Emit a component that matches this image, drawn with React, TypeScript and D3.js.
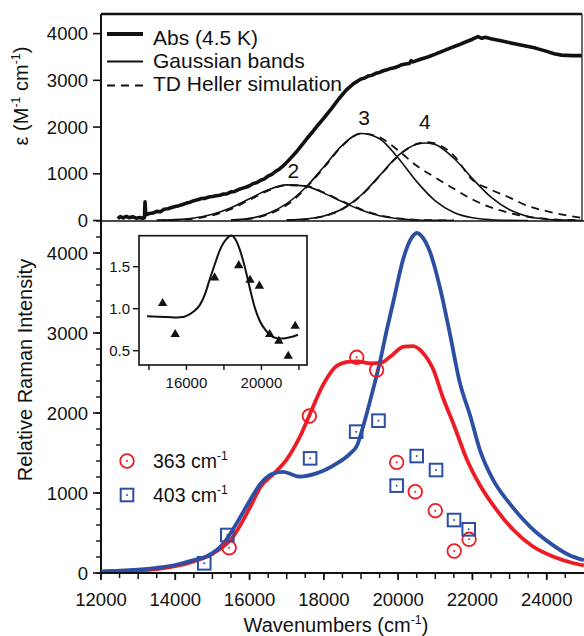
import React from 'react';
import * as d3 from 'd3';

// ---------- DATA ----------
// Top panel: absorption (4.5 K), epsilon vs wavenumber
const absData: [number, number][] = [
  [12450, 40], [12520, 85], [12600, 55], [12680, 90], [12760, 60], [12850, 80], [12950, 50], [13050, 65], [13120, 45],
  [13170, 60], [13185, 400], [13205, 120], [13300, 150], [13400, 160], [13500, 195], [13600, 188], [13700, 240],
  [13800, 250], [13900, 278], [14000, 300], [14100, 318], [14200, 342], [14300, 372], [14400, 392], [14500, 425],
  [14600, 442], [14700, 472], [14800, 474], [14900, 502], [15000, 512], [15100, 528], [15200, 542], [15300, 565],
  [15400, 574], [15500, 612], [15600, 622], [15700, 662], [15800, 688], [15900, 712], [16000, 744], [16100, 792],
  [16200, 812], [16300, 862], [16400, 892], [16500, 952], [16600, 988], [16700, 1052], [16800, 1098], [16950, 1200],
  [17100, 1330], [17250, 1460], [17400, 1610], [17550, 1760], [17700, 1900], [17850, 2050], [18000, 2190],
  [18200, 2390], [18400, 2600], [18600, 2790], [18800, 2930], [19000, 3030], [19100, 3050], [19200, 3095],
  [19300, 3110], [19400, 3150], [19500, 3170], [19600, 3205], [19700, 3225], [19800, 3255], [19900, 3270],
  [20000, 3300], [20100, 3335], [20200, 3350], [20300, 3360], [20350, 3420], [20400, 3395], [20600, 3450],
  [20800, 3500], [21000, 3560], [21200, 3625], [21400, 3690], [21600, 3750], [21800, 3815], [22000, 3880],
  [22150, 3935], [22250, 3900], [22350, 3920], [22500, 3890], [22800, 3840], [23100, 3790], [23400, 3740],
  [23700, 3690], [24000, 3620], [24200, 3570], [24400, 3540], [24700, 3530], [25000, 3530],
];
const band2: [number, number][] = [
  [13500, 5], [14000, 18], [14500, 54], [15000, 134], [15500, 275], [16000, 467], [16500, 656], [17000, 763],
  [17500, 735], [18000, 586], [18500, 400], [19000, 225], [19500, 100], [20000, 38], [20500, 12], [21000, 3], [21500, 0],
];
const heller2: [number, number][] = [
  [13500, 3], [14000, 12], [14500, 40], [15000, 110], [15500, 245], [16000, 440], [16500, 640], [17000, 755],
  [17500, 740], [18000, 600], [18500, 410], [19000, 240], [19500, 115], [20000, 45], [20500, 15], [21000, 4], [21500, 0],
];
const band3: [number, number][] = [
  [15500, 12], [16000, 45], [16500, 150], [17000, 360], [17500, 700], [18000, 1150], [18500, 1615], [19000, 1862],
  [19500, 1750], [20000, 1338], [20500, 832], [21000, 421], [21500, 173], [22000, 58], [22500, 16], [23000, 3], [23500, 0],
];
const heller3: [number, number][] = [
  [15500, 8], [16000, 35], [16500, 130], [17000, 330], [17500, 680], [18000, 1130], [18500, 1600], [19000, 1860],
  [19500, 1780], [20000, 1500], [20500, 1170], [21000, 920], [21500, 680], [22000, 450], [22500, 280], [23000, 160],
  [23500, 80], [24000, 35], [24500, 12], [25000, 4],
];
const band4: [number, number][] = [
  [17000, 7], [17500, 30], [18000, 95], [18500, 250], [19000, 540], [19500, 960], [20000, 1390], [20500, 1630],
  [20750, 1660], [21000, 1625], [21500, 1332], [22000, 900], [22500, 500], [23000, 229], [23500, 86], [24000, 27],
  [24500, 7], [25000, 0],
];
const heller4: [number, number][] = [
  [17000, 5], [17500, 25], [18000, 90], [18500, 240], [19000, 530], [19500, 950], [20000, 1380], [20500, 1640],
  [20750, 1680], [21000, 1650], [21500, 1390], [22000, 870], [22500, 660], [23000, 490], [23500, 310], [24000, 200],
  [24500, 115], [25000, 50],
];
const bandLabels: [string, number, number][] = [
  ['2', 17180, 910], ['3', 19080, 2050], ['4', 20720, 1950],
];

// Bottom panel: Raman excitation profiles
const sim363: [number, number][] = [
  [12000, 15], [12500, 22], [13000, 32], [13500, 50], [14000, 85], [14500, 145], [15000, 240], [15500, 420],
  [16000, 810], [16300, 1080], [16650, 1240], [17000, 1420], [17350, 1700], [17600, 1960], [18000, 2370],
  [18350, 2590], [18650, 2640], [18900, 2645], [19250, 2620], [19550, 2630], [19800, 2710], [20150, 2830],
  [20400, 2835], [20650, 2760], [20950, 2540], [21200, 2200], [21500, 1850], [21850, 1420], [22200, 1100],
  [22650, 790], [23100, 540], [23600, 340], [24200, 200], [24700, 125], [25000, 95],
];
const sim403: [number, number][] = [
  [12000, 20], [12500, 28], [13000, 42], [13500, 65], [14000, 100], [14500, 160], [14850, 210], [15300, 370],
  [15650, 620], [16000, 900], [16300, 1120], [16650, 1245], [16900, 1265], [17350, 1205], [17800, 1245],
  [18350, 1370], [18700, 1490], [18900, 1600], [19050, 1820], [19300, 2250], [19500, 2620], [19700, 3050],
  [19870, 3390], [20140, 3930], [20350, 4180], [20500, 4250], [20650, 4200], [20860, 4010], [21130, 3560],
  [21400, 2975], [21650, 2400], [21950, 1950], [22200, 1540], [22550, 1170], [23000, 870], [23550, 580],
  [24100, 370], [24600, 225], [25000, 160],
];
const exp363: [number, number][] = [
  [15450, 316], [17610, 1962], [18885, 2696], [19420, 2537], [19960, 1383], [20460, 1016], [21000, 779],
  [21510, 275], [21910, 421],
];
const exp403: [number, number][] = [
  [14780, 121], [15400, 475], [17630, 1433], [18870, 1767], [19470, 1904], [19960, 1092], [20500, 1462],
  [21020, 1287], [21505, 662], [21900, 546],
];

// Inset: intensity ratio
const insetCurve: [number, number][] = [
  [13900, 0.91], [14500, 0.905], [15000, 0.9], [15500, 0.895], [15800, 0.9], [16000, 0.915], [16400, 0.97],
  [16700, 1.04], [17000, 1.18], [17200, 1.32], [17500, 1.52], [17750, 1.68], [18000, 1.79], [18250, 1.855],
  [18400, 1.87], [18600, 1.83], [18850, 1.7], [19050, 1.55], [19250, 1.37], [19450, 1.18], [19650, 1.01],
  [19900, 0.86], [20200, 0.75], [20500, 0.68], [20800, 0.65], [21100, 0.645], [21400, 0.655], [21700, 0.67],
  [21950, 0.69],
];
const insetPoints: [number, number][] = [
  [14730, 1.063], [15400, 0.694], [17500, 1.369], [18790, 1.515], [19390, 1.34], [19890, 1.27], [20440, 0.694],
  [20930, 0.615], [21430, 0.436], [21800, 0.793],
];

const xTicks = [12000, 14000, 16000, 18000, 20000, 22000, 24000];
const topYTicks = [0, 1000, 2000, 3000, 4000];
const botYTicks = [0, 1000, 2000, 3000, 4000];
const insetXTicks = [14000, 16000, 18000, 20000, 22000];
const insetXLabels = [16000, 20000];
const insetYTicks = [0.5, 1.0, 1.5];

// ---------- LAYOUT ----------
const W = 584, H = 636;
const L = 101, R = 582;
const TOP_T = 14, TOP_B = 221, BOT_B = 573;
const RED = '#ec1c24';
const BLUE = '#2c4ea3';
const FONT = '"Liberation Sans", Arial, Helvetica, sans-serif';

const x = d3.scaleLinear().domain([12000, 24950]).range([L, R]);
const yTop = d3.scaleLinear().domain([0, 4420]).range([220.5, TOP_T]);
const yBot = d3.scaleLinear().domain([0, 4400]).range([BOT_B, TOP_B]);
const ix = d3.scaleLinear().domain([13470, 22430]).range([139, 307]);
const iy = d3.scaleLinear().domain([0.33, 1.869]).range([365, 235.7]);

const lineTop = d3.line<[number, number]>().x(d => x(d[0])).y(d => yTop(d[1])).curve(d3.curveMonotoneX);
const lineAbs = d3.line<[number, number]>().x(d => x(d[0])).y(d => yTop(d[1])).curve(d3.curveLinear);
const lineBot = d3.line<[number, number]>().x(d => x(d[0])).y(d => yBot(d[1])).curve(d3.curveMonotoneX);
const lineInset = d3.line<[number, number]>().x(d => ix(d[0])).y(d => iy(d[1])).curve(d3.curveMonotoneX);

const Sup = ({ t }: { t: string }) => (
  <tspan dy={-8} fontSize="0.62em">{t}</tspan>
);

export default function App() {
  const xMinor = d3.range(12000, 25000, 500);
  const botMinor = d3.range(0, 4401, 200);
  const triPath = d3.symbol().type(d3.symbolTriangle).size(38)() as string;
  return (
    <svg width={W} height={H} style={{ position: 'absolute', left: 0, top: 0, background: '#fff' }}
      fontFamily={FONT}>
      <defs>
        <clipPath id="clipTop"><rect x={L} y={TOP_T} width={R - L} height={TOP_B - TOP_T} /></clipPath>
        <clipPath id="clipBot"><rect x={L} y={TOP_B} width={R - L + 2} height={BOT_B - TOP_B} /></clipPath>
      </defs>
      <rect x={0} y={0} width={W} height={H} fill="#fff" />

      {/* ===== TOP PANEL ===== */}
      <g clipPath="url(#clipTop)" fill="none" stroke="#111">
        <path d={lineTop(band2)!} strokeWidth={1.6} />
        <path d={lineTop(band3)!} strokeWidth={1.6} />
        <path d={lineTop(band4)!} strokeWidth={1.6} />
        <path d={lineTop(heller2)!} strokeWidth={1.8} strokeDasharray="8,6" />
        <path d={lineTop(heller3)!} strokeWidth={1.8} strokeDasharray="8,6" />
        <path d={lineTop(heller4)!} strokeWidth={1.8} strokeDasharray="8,6" />
        <path d={lineAbs(absData)!} strokeWidth={3.6} strokeLinejoin="round" />
      </g>
      {bandLabels.map(([t, w, v]) => (
        <text key={t} x={x(w)} y={yTop(v)} fontSize={21} textAnchor="middle" fill="#111"
          stroke="#fff" strokeWidth={t === '2' ? 5 : 0} paintOrder="stroke">{t}</text>
      ))}
      {/* frame */}
      <line x1={L} x2={R} y1={TOP_T} y2={TOP_T} stroke="#111" strokeWidth={2.5} />
      <line x1={R} x2={R} y1={TOP_T} y2={TOP_B} stroke="#333" strokeWidth={1.4} />
      <line x1={L} x2={L} y1={TOP_T} y2={BOT_B} stroke="#111" strokeWidth={2} />
      <line x1={L} x2={W} y1={TOP_B} y2={TOP_B} stroke="#111" strokeWidth={1.6} />
      {topYTicks.map(t => (
        <g key={t}>
          <line x1={L - 8} x2={L} y1={yTop(t)} y2={yTop(t)} stroke="#111" strokeWidth={1.6} />
          <text x={L - 13} y={yTop(t)} dy="0.36em" fontSize={18.5} textAnchor="end" fill="#111">{t}</text>
        </g>
      ))}
      <text transform={`translate(28,96) rotate(-90)`} fontSize={20} textAnchor="middle" fill="#111">
        ε (M<Sup t="-1" /><tspan dy={8}> cm</tspan><Sup t="-1" /><tspan dy={8}>)</tspan>
      </text>
      {/* top legend */}
      <line x1={107} x2={143} y1={34} y2={34} stroke="#111" strokeWidth={4} />
      <line x1={107} x2={143} y1={61.5} y2={61.5} stroke="#111" strokeWidth={1.8} />
      <line x1={107} x2={145} y1={85.5} y2={85.5} stroke="#111" strokeWidth={1.8} strokeDasharray="8,6" />
      <text x={153} y={45} fontSize={21} fill="#111">Abs (4.5 K)</text>
      <text x={153} y={68} fontSize={21} fill="#111">Gaussian bands</text>
      <text x={153} y={91} fontSize={21} fill="#111">TD Heller simulation</text>

      {/* ===== BOTTOM PANEL ===== */}
      <g clipPath="url(#clipBot)" fill="none">
        <path d={lineBot(sim363)!} stroke={RED} strokeWidth={3.8} />
        <path d={lineBot(sim403)!} stroke={BLUE} strokeWidth={3.8} />
      </g>
      {exp363.map(([w, v], i) => (
        <g key={'r' + i}>
          <circle cx={x(w)} cy={yBot(v)} r={6.8} fill="none" stroke={RED} strokeWidth={1.8} />
          <circle cx={x(w)} cy={yBot(v)} r={1} fill={RED} />
        </g>
      ))}
      {exp403.map(([w, v], i) => (
        <g key={'b' + i}>
          <rect x={x(w) - 6.3} y={yBot(v) - 6.3} width={12.6} height={12.6} fill="none" stroke={BLUE} strokeWidth={2} />
          <circle cx={x(w)} cy={yBot(v)} r={1} fill={BLUE} />
        </g>
      ))}
      <line x1={L} x2={W} y1={BOT_B} y2={BOT_B} stroke="#111" strokeWidth={2} />
      {xMinor.map(t => (
        <line key={'xm' + t} x1={x(t)} x2={x(t)} y1={BOT_B} y2={BOT_B + (t % 1000 === 0 ? 6 : 5)} stroke="#111" strokeWidth={1.5} />
      ))}
      {xTicks.map(t => (
        <g key={'x' + t}>
          <line x1={x(t)} x2={x(t)} y1={BOT_B} y2={BOT_B + 7} stroke="#111" strokeWidth={1.6} />
          <text x={x(t)} y={606} fontSize={18.5} textAnchor="middle" fill="#111">{t}</text>
        </g>
      ))}
      {botMinor.map(t => (
        <line key={'ym' + t} x1={L - 5} x2={L} y1={yBot(t)} y2={yBot(t)} stroke="#111" strokeWidth={1.4} />
      ))}
      {botYTicks.map(t => (
        <g key={'yb' + t}>
          <line x1={L - 8} x2={L} y1={yBot(t)} y2={yBot(t)} stroke="#111" strokeWidth={1.6} />
          <text x={L - 13} y={yBot(t)} dy="0.36em" fontSize={18.5} textAnchor="end" fill="#111">{t}</text>
        </g>
      ))}
      <text transform={`translate(32,370) rotate(-90)`} fontSize={20} textAnchor="middle" fill="#111">
        Relative Raman Intensity
      </text>
      <text x={336} y={632} fontSize={20} textAnchor="middle" fill="#111">
        Wavenumbers (cm<Sup t="-1" /><tspan dy={8}>)</tspan>
      </text>
      {/* bottom legend */}
      <circle cx={127} cy={461} r={6.8} fill="none" stroke={RED} strokeWidth={1.8} />
      <circle cx={127} cy={461} r={1} fill={RED} />
      <text x={153} y={468} fontSize={19.5} fill="#111">363 cm<Sup t="-1" /></text>
      <rect x={127 - 6.3} y={495 - 6.3} width={12.6} height={12.6} fill="none" stroke={BLUE} strokeWidth={2} />
      <circle cx={127} cy={495} r={1} fill={BLUE} />
      <text x={153} y={502} fontSize={19.5} fill="#111">403 cm<Sup t="-1" /></text>

      {/* ===== INSET ===== */}
      <rect x={139} y={235.7} width={168} height={129.3} fill="#fff" stroke="#111" strokeWidth={1.6} />
      <path d={lineInset(insetCurve)!} fill="none" stroke="#111" strokeWidth={2} />
      {insetPoints.map(([w, v], i) => (
        <path key={'t' + i} d={triPath} transform={`translate(${ix(w)},${iy(v)})`} fill="#111" />
      ))}
      {insetYTicks.map(t => (
        <g key={'iy' + t}>
          <line x1={133} x2={139} y1={iy(t)} y2={iy(t)} stroke="#111" strokeWidth={1.4} />
          <text x={130} y={iy(t)} dy="0.36em" fontSize={15} textAnchor="end" fill="#111">{t.toFixed(1)}</text>
        </g>
      ))}
      {insetXTicks.map(t => (
        <line key={'ix' + t} x1={ix(t)} x2={ix(t)} y1={365} y2={370} stroke="#111" strokeWidth={1.4} />
      ))}
      {insetXLabels.map(t => (
        <text key={'ixl' + t} x={ix(t)} y={388} fontSize={15} textAnchor="middle" fill="#111">{t}</text>
      ))}
    </svg>
  );
}
